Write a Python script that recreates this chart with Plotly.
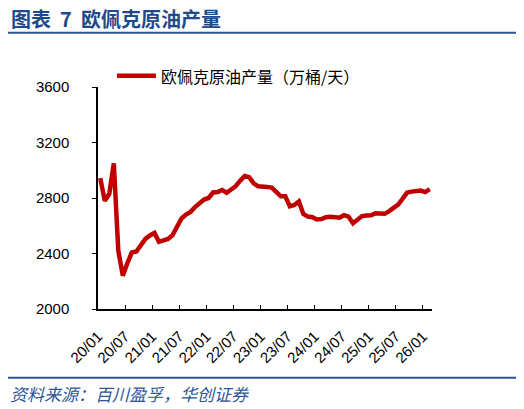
import plotly.graph_objects as go

# 欧佩克原油产量 (万桶/天), monthly 2020/01 - 2026/02
output = [
    2943, 2780, 2830, 3050, 2420, 2240, 2330, 2407, 2414, 2455, 2505, 2530,
    2548, 2484, 2495, 2505, 2531, 2590, 2652, 2680, 2700, 2735, 2764, 2789,
    2800, 2840, 2843, 2858, 2838, 2860, 2885, 2925, 2958, 2950, 2905, 2884,
    2884, 2880, 2875, 2840, 2812, 2812, 2740, 2750, 2775, 2685, 2666, 2662,
    2645, 2648, 2662, 2664, 2664, 2658, 2676, 2665, 2618, 2645, 2670, 2674,
    2675, 2690, 2684, 2686, 2705, 2725, 2753, 2795, 2840, 2846, 2849, 2854,
    2843, 2864,
]
tick_labels = ["20/01", "20/07", "21/01", "21/07", "22/01", "22/07", "23/01",
               "23/07", "24/01", "24/07", "25/01", "25/07", "26/01"]
y_ticks = [2000, 2400, 2800, 3200, 3600]

title_text = "图表\u00a0\u00a07\u00a0\u00a0欧佩克原油产量"
series_name = "欧佩克原油产量（万桶/天）"
source_text = "资料来源：百川盈孚，华创证券"

# the page body keeps an 8px margin, so the figure is drawn 8px smaller
OFF = 8
W, H = 524 - OFF, 409 - OFF
# plot box in window pixels: x 98..432, y 87..309
ML, MR, MT, MB = 98 - OFF, 524 - 432, 87 - OFF, 409 - 309
PW, PH = W - ML - MR, H - MT - MB

def px_x(p):
    return (p - OFF - ML) / PW

def px_y(p):
    return (H - MB - (p - OFF)) / PH

RED = "#C00000"
BLUE = "#2F5597"
NAVY = "#1F4A8A"
CJK = "Noto Sans CJK SC"
NUM = "Liberation Sans, Noto Sans CJK SC"

x = list(range(len(output)))

fig = go.Figure()
fig.add_trace(go.Scatter(
    x=x, y=output, mode="lines", name=series_name,
    line=dict(color=RED, width=4.5),
    showlegend=False,
))

fig.update_xaxes(
    range=[-0.5, len(output) - 0.5],
    tickvals=[-0.5 + 6 * k for k in range(len(tick_labels))],
    ticktext=tick_labels,
    tickangle=-45,
    ticks="inside", ticklen=4, tickcolor="black", tickwidth=1,
    showline=True, linecolor="black", linewidth=1.5,
    showgrid=False, zeroline=False,
    tickfont=dict(family=NUM, size=15, color="black"),
    ticklabelstandoff=11,
)
fig.update_yaxes(
    range=[2000, 3600],
    tickvals=y_ticks,
    ticks="outside", ticklen=4, tickcolor="black", tickwidth=1,
    showline=True, linecolor="black", linewidth=1.5,
    showgrid=False, zeroline=False,
    tickfont=dict(family=NUM, size=15, color="black"),
    ticklabelstandoff=20,
)

# header / footer rules
for yy in (32.7, 377.7):
    fig.add_shape(type="line", xref="paper", yref="paper",
                  x0=px_x(5), x1=px_x(517), y0=px_y(yy), y1=px_y(yy),
                  line=dict(color=BLUE, width=2))

# legend drawn by hand: sample line + label
fig.add_shape(type="line", xref="paper", yref="paper",
              x0=px_x(117), x1=px_x(156), y0=px_y(75.7), y1=px_y(75.7),
              line=dict(color=RED, width=4.5))
fig.add_annotation(text=series_name, xref="paper", yref="paper",
                   x=px_x(159), y=px_y(76), xanchor="left", yanchor="middle",
                   showarrow=False, font=dict(family=CJK, size=16, color="black"))

fig.add_annotation(text="<b>" + title_text + "</b>", xref="paper", yref="paper",
                   x=px_x(9), y=px_y(18), xanchor="left", yanchor="middle",
                   showarrow=False, font=dict(family=CJK, size=20, color=NAVY))
fig.add_annotation(text="<i>" + source_text + "</i>", xref="paper", yref="paper",
                   x=px_x(8), y=px_y(394), xanchor="left", yanchor="middle",
                   showarrow=False, font=dict(family=CJK, size=17, color=BLUE))

fig.update_layout(
    width=W, height=H,
    margin=dict(l=ML, r=MR, t=MT, b=MB),
    plot_bgcolor="white", paper_bgcolor="white",
    showlegend=False,
)

fig.write_html("out.html")
